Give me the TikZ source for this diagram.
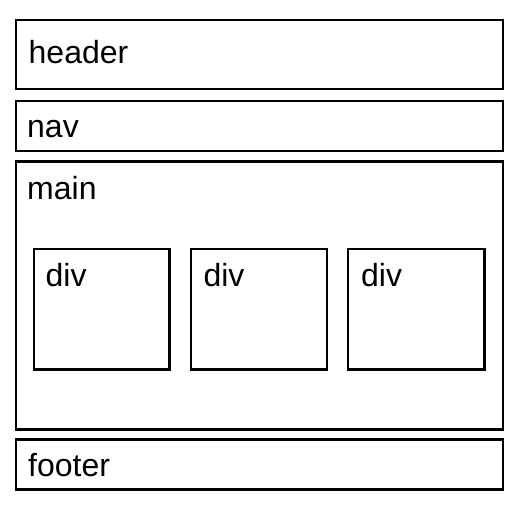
\documentclass[tikz,border=0pt]{standalone}
\usepackage{fontspec}
\setmainfont{Liberation Sans}
\begin{document}
\begin{tikzpicture}[x=1pt,y=-1pt,
  box/.style={draw=black, line width=2.6pt, inner sep=0pt, fill=white},
  lbl/.style={anchor=base west, inner sep=0pt, font=\fontsize{32}{32}\selectfont}]
\useasboundingbox (0,0) rectangle (517,508);
% outer boxes
\node[box, minimum width=487pt, minimum height=69pt] (header) at (259.5,54.5) {};
\node[box, minimum width=487pt, minimum height=50pt] (nav) at (259.5,126) {};
\node[box, minimum width=487pt, minimum height=268pt] (main) at (259.5,295.5) {};
\node[box, minimum width=487pt, minimum height=50pt] (footer) at (259.5,464.5) {};
% divs
\node[box, minimum width=135.5pt, minimum height=120.5pt] (div1) at (101.75,309.25) {};
\node[box, minimum width=136pt, minimum height=120.5pt] (div2) at (259,309.25) {};
\node[box, minimum width=136.5pt, minimum height=120.5pt] (div3) at (416.25,309.25) {};
% labels
\node[lbl] (theader) at (28.5,63.3) {header};
\node[lbl] (tnav) at (27,137.7) {nav};
\node[lbl] (tmain) at (27,199.3) {main};
\node[lbl] (tfooter) at (28,476) {footer};
\node[lbl] (tdiv1) at (45.5,286) {div};
\node[lbl] (tdiv2) at (203.3,286) {div};
\node[lbl] (tdiv3) at (361,286) {div};
\end{tikzpicture}
\end{document}
